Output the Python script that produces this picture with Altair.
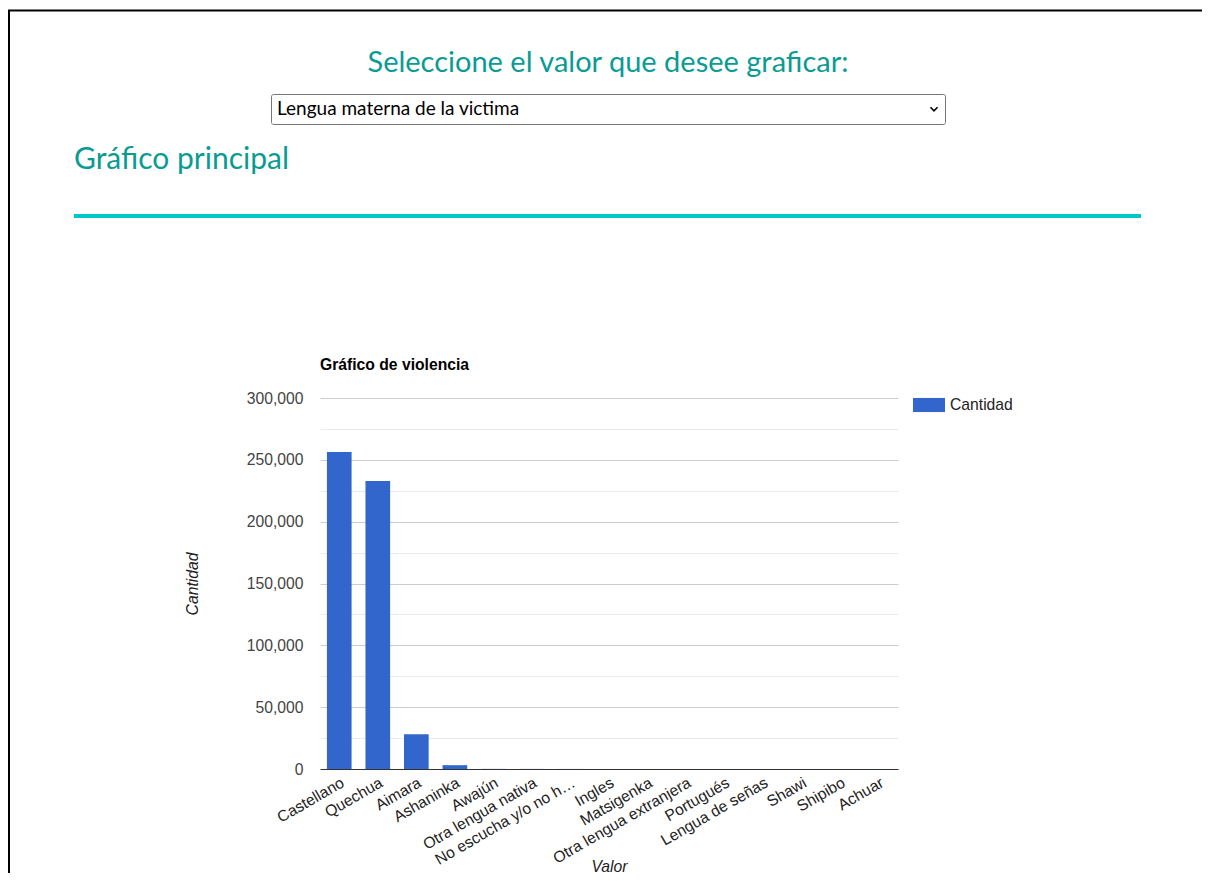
import altair as alt
import pandas as pd

# ---- data ----
categories = ["Castellano", "Quechua", "Aimara", "Ashaninka", "Awajún",
              "Otra lengua nativa", "No escucha y/o no h…", "Ingles",
              "Matsigenka", "Otra lengua extranjera", "Portugués",
              "Lengua de señas", "Shawi", "Shipibo", "Achuar"]
values = [256300, 232900, 28100, 3100, 90, 70, 50, 20, 15, 12, 6, 5, 3, 2, 1]
series_name = "Cantidad"

# ---- page texts ----
header_text = "Seleccione el valor que desee graficar:"
select_text = "Lengua materna de la victima"
section_text = "Gráfico principal"
chart_title = "Gráfico de violencia"
x_title = "Valor"
y_title = "Cantidad"

TEAL = "#0a9b94"
FONT = "Liberation Sans"
PAGE_FONT = "Lato"
FS = 15.7

W, H = 578, 371

df = pd.DataFrame({"Valor": categories, "Cantidad": values,
                   "serie": [series_name] * len(categories)})

bars = alt.Chart(df).mark_bar(color="#3366cc").encode(
    x=alt.X("Valor:N", sort=None,
            scale=alt.Scale(paddingInner=0.36, paddingOuter=0.18),
            axis=alt.Axis(title=x_title, labelAngle=-30, labelFont=FONT, labelFontSize=FS,
                          labelColor="#222", ticks=False, labelPadding=6, labelLimit=400,
                          domainColor="#333", domainWidth=1.2, grid=False,
                          titleFont=FONT, titleFontSize=FS, titleFontStyle="italic",
                          titleFontWeight="normal", titleColor="#222",
                          titleX=W / 2, titleY=102, titleBaseline="alphabetic")),
    y=alt.Y("Cantidad:Q",
            scale=alt.Scale(domain=[0, 300000], nice=False),
            axis=alt.Axis(title=y_title,
                          values=list(range(0, 300001, 25000)),
                          labelExpr="datum.value % 50000 === 0 ? format(datum.value, ',') : ''",
                          gridColor={"condition": {"test": "datum.value % 50000 === 0", "value": "#cccccc"},
                                     "value": "#ebebeb"},
                          domain=False, ticks=False, tickSize=0, labelPadding=17,
                          labelFont=FONT, labelFontSize=FS, labelColor="#444",
                          titleFont=FONT, titleFontSize=FS, titleFontStyle="italic",
                          titleFontWeight="normal", titleColor="#222",
                          titleAngle=-90, titleX=-128, titleY=H / 2,
                          titleBaseline="middle", titleAlign="center")),
    color=alt.Color("serie:N", scale=alt.Scale(range=["#3366cc"]),
                    legend=alt.Legend(title=None, orient="none", legendX=593, legendY=-9,
                                      symbolType="M-1,-0.44H1V0.44H-1Z", symbolSize=1024,
                                      symbolStrokeWidth=0, symbolOpacity=1,
                                      labelFont=FONT, labelFontSize=FS, labelColor="#222",
                                      labelOffset=5)),
)

one = alt.Data(values=[{}])


def deco_text(text, x, y, size, color, font, align="left", weight="normal"):
    return alt.Chart(alt.Data(values=[{"t": text}])).mark_text(
        align=align, baseline="alphabetic", fontSize=size, color=color,
        font=font, fontWeight=weight
    ).encode(text="t:N", x=alt.value(x), y=alt.value(y))


def rule(x1, x2, y1, y2, color, width):
    return alt.Chart(one).mark_rule(color=color, strokeWidth=width).encode(
        x=alt.value(x1), x2=alt.value(x2), y=alt.value(y1), y2=alt.value(y2))


border_top = rule(-312, 890, -387.5, -387.5, "#000", 2)
border_left = rule(-311, -311, -387.5, 480, "#000", 2)
header = deco_text(header_text, 288, -326, 29, TEAL, PAGE_FONT, align="center")
select_box = alt.Chart(one).mark_rect(fill="white", stroke="#767676", strokeWidth=1,
                                      cornerRadius=2).encode(
    x=alt.value(-48.5), x2=alt.value(625.5), y=alt.value(-303.5), y2=alt.value(-273.5))
select_label = deco_text(select_text, -43, -283, 19, "#000", PAGE_FONT)
chevron = alt.Chart(one).mark_point(shape="M-1,-0.5L0,0.5L1,-0.5", filled=False,
                                    color="#000", strokeWidth=1.6, size=50, opacity=1).encode(
    x=alt.value(614), y=alt.value(-289))
section = deco_text(section_text, -246, -229, 30, TEAL, PAGE_FONT)
teal_line = rule(-246, 821, -182, -182, "#00c8c8", 4)
title = deco_text(chart_title, 0, -28, FS, "#000", FONT, weight="bold")

chart = alt.layer(
    bars, border_top, border_left, header, select_box, select_label, chevron,
    section, teal_line, title
).properties(
    width=W, height=H,
    autosize=alt.AutoSizeParams(type="none"),
    padding={"left": 312, "top": 390, "right": 304, "bottom": 104},
    background="white",
).configure_view(stroke=None)

chart.save("out.html", embed_options={"renderer": "svg", "actions": False})
